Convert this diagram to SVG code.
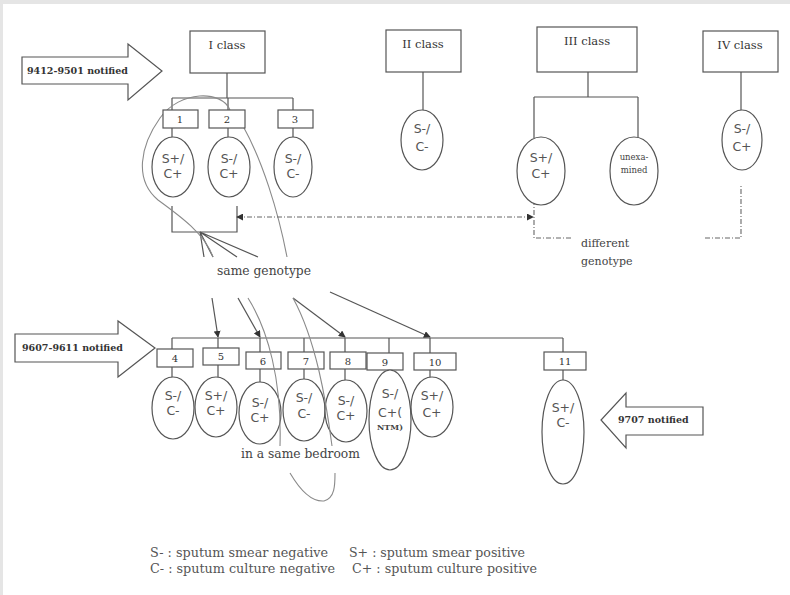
<svg xmlns="http://www.w3.org/2000/svg" width="790" height="595" viewBox="0 0 790 595">
<defs>
<style>
.ln{stroke:#555;stroke-width:1.2;fill:none}
.gc{stroke:#8a8a8a;stroke-width:1.1;fill:none}
.bx{stroke:#555;stroke-width:1.2;fill:#fff}
.el{stroke:#555;stroke-width:1.2;fill:#fff}
.dd{stroke:#666;stroke-width:1.1;fill:none;stroke-dasharray:5,2,1,2}
.cl{font-family:"DejaVu Serif",serif;font-size:11.5px;fill:#333;text-anchor:middle}
.nm{font-family:"DejaVu Serif",serif;font-size:10px;fill:#333;text-anchor:middle}
.dg{font-family:"DejaVu Serif",serif;font-size:11px;fill:#444}
.et{font-family:"DejaVu Sans",sans-serif;font-size:12.5px;fill:#555;text-anchor:middle}
.sm{font-family:"DejaVu Serif",serif;font-size:8px;fill:#444;text-anchor:middle;font-weight:bold}
.ux{font-family:"DejaVu Serif",serif;font-size:8.5px;fill:#444;text-anchor:middle}
.ar{font-family:"DejaVu Serif",serif;font-size:9.5px;fill:#333;font-weight:bold}
.lb{font-family:"DejaVu Serif",serif;font-size:12.3px;fill:#444}
.lg{font-family:"DejaVu Serif",serif;font-size:12px;fill:#555}
.bg{stroke:#555;stroke-width:1.2;fill:#fff}
</style>
<marker id="ah" viewBox="0 0 8 8" refX="7" refY="4" markerWidth="7" markerHeight="7" orient="auto" markerUnits="userSpaceOnUse">
<path d="M0,0 L8,4 L0,8 z" fill="#333"/>
</marker>
<marker id="ad" viewBox="0 0 8 8" refX="7" refY="4" markerWidth="7" markerHeight="7" orient="auto-start-reverse" markerUnits="userSpaceOnUse">
<path d="M0,0 L8,4 L0,8 z" fill="#333"/>
</marker>
</defs>
<rect x="0" y="0" width="790" height="595" fill="#e5e5e5"/>
<rect x="3" y="4" width="787" height="591" fill="#fff"/>

<g id="connectors">
<path class="ln" d="M227,73 V98 M172,98 H293 M172,98 V110 M228,98 V110 M293,98 V110 M172,128 V137 M228,128 V137 M293,128 V138"/>
<path class="ln" d="M423,72 V110"/>
<path class="ln" d="M588,72 V97 M534,97 H638 M534,97 V138 M638,97 V138"/>
<path class="ln" d="M741,72 V110"/>
<path class="ln" d="M172,206 V232 H237 V206"/>
<path class="ln" d="M200,232 L204,257 M200,232 L237,257 M200,232 L258,257 M200,232 L213,257"/>
<path class="gc" d="M230,110 C222,90 180,90 160,118 C140,146 134,180 158,200 C180,216 205,234 213,257"/>
<path class="gc" d="M243,126 C262,160 278,210 287,257"/>
<path class="dd" d="M237,217 H533" marker-start="url(#ad)" marker-end="url(#ad)"/>
<path class="dd" d="M534,200 V238 H573"/>
<path class="dd" d="M705,238 H741 V185"/>
<path class="ln" d="M172,338 H563 M172,338 V349 M218,338 V348 M260,338 V352 M304,338 V352 M345,338 V352 M389,338 V353 M430,338 V353 M563,338 V352"/>
<path class="ln" d="M172,367 V378 M218,365 V377 M260,369 V383 M304,369 V379 M345,369 V380 M430,370 V377 M563,370 V380"/>
<path class="ln" d="M212,298 L218,337" marker-end="url(#ah)"/>
<path class="ln" d="M238,298 L260,337" marker-end="url(#ah)"/>
<path class="ln" d="M293,298 L345,337" marker-end="url(#ah)"/>
<path class="ln" d="M330,292 L430,337" marker-end="url(#ah)"/>
</g>

<g id="arrow-9412">
<path class="bg" d="M22,57 H128 V44 L162,71 L128,100 V84 H22 Z"/>
<text class="ar" x="27" y="74">9412-9501 notified</text>
</g>
<g id="arrow-9607">
<path class="bg" d="M15,334 H118 V321 L155,348 L118,377 V362 H15 Z"/>
<text class="ar" x="22" y="351">9607-9611 notified</text>
</g>
<g id="arrow-9707">
<path class="bg" d="M703,407 H626 V393 L601,420 L626,448 V435 H703 Z"/>
<text class="ar" x="618" y="423">9707 notified</text>
</g>

<g id="class1"><rect class="bx" x="190" y="31" width="75" height="42"/><text class="cl" x="227" y="49">I class</text></g>
<g id="class2"><rect class="bx" x="386" y="30" width="75" height="42"/><text class="cl" x="423" y="48">II class</text></g>
<g id="class3"><rect class="bx" x="537" y="27" width="100" height="45"/><text class="cl" x="587" y="45">III class</text></g>
<g id="class4"><rect class="bx" x="703" y="31" width="75" height="41"/><text class="cl" x="740" y="49">IV class</text></g>

<g id="box1"><rect class="bx" x="163" y="110" width="35" height="18"/><text class="nm" x="180" y="123">1</text></g>
<g id="box2"><rect class="bx" x="209" y="110" width="36" height="18"/><text class="nm" x="227" y="123">2</text></g>
<g id="box3"><rect class="bx" x="278" y="110" width="35" height="18"/><text class="nm" x="295" y="123">3</text></g>

<g id="e1"><ellipse class="el" cx="173" cy="167" rx="21" ry="30"/><text class="et" x="173" y="163">S+/</text><text class="et" x="173" y="178">C+</text></g>
<g id="e2"><ellipse class="el" cx="229" cy="167" rx="21" ry="30"/><text class="et" x="229" y="163">S-/</text><text class="et" x="229" y="178">C+</text></g>
<g id="e3"><ellipse class="el" cx="293" cy="167" rx="19" ry="30"/><text class="et" x="293" y="163">S-/</text><text class="et" x="293" y="178">C-</text></g>
<g id="eII"><ellipse class="el" cx="422" cy="140" rx="21" ry="30"/><text class="et" x="422" y="133">S-/</text><text class="et" x="422" y="151">C-</text></g>
<g id="eIIIa"><ellipse class="el" cx="541" cy="171" rx="24" ry="34"/><text class="et" x="541" y="162">S+/</text><text class="et" x="541" y="178">C+</text></g>
<g id="eIIIb"><ellipse class="el" cx="634" cy="171" rx="24" ry="34"/><text class="ux" x="634" y="160">unexa-</text><text class="ux" x="634" y="173">mined</text></g>
<g id="eIV"><ellipse class="el" cx="742" cy="140" rx="20" ry="30"/><text class="et" x="742" y="133">S-/</text><text class="et" x="742" y="151">C+</text></g>

<g id="box4"><rect class="bx" x="157" y="349" width="36" height="18"/><text class="nm" x="175" y="362">4</text></g>
<g id="box5"><rect class="bx" x="203" y="348" width="36" height="17"/><text class="nm" x="221" y="360">5</text></g>
<g id="box6"><rect class="bx" x="246" y="352" width="35" height="17"/><text class="nm" x="263" y="365">6</text></g>
<g id="box7"><rect class="bx" x="288" y="352" width="36" height="17"/><text class="nm" x="306" y="365">7</text></g>
<g id="box8"><rect class="bx" x="330" y="352" width="36" height="17"/><text class="nm" x="348" y="365">8</text></g>
<g id="box9"><rect class="bx" x="367" y="353" width="36" height="17"/><text class="nm" x="385" y="366">9</text></g>
<g id="box10"><rect class="bx" x="414" y="353" width="42" height="17"/><text class="nm" x="435" y="366">10</text></g>
<g id="box11"><rect class="bx" x="544" y="352" width="42" height="18"/><text class="nm" x="565" y="365">11</text></g>

<g id="e4"><ellipse class="el" cx="173" cy="408" rx="21" ry="31"/><text class="et" x="173" y="400">S-/</text><text class="et" x="173" y="415">C-</text></g>
<g id="e5"><ellipse class="el" cx="216" cy="407" rx="21" ry="30"/><text class="et" x="216" y="400">S+/</text><text class="et" x="216" y="415">C+</text></g>
<g id="e6"><ellipse class="el" cx="260" cy="413" rx="21" ry="31"/><text class="et" x="260" y="407">S-/</text><text class="et" x="260" y="422">C+</text></g>
<g id="e7"><ellipse class="el" cx="304" cy="410" rx="21" ry="31"/><text class="et" x="304" y="402">S-/</text><text class="et" x="304" y="418">C-</text></g>
<g id="e8"><ellipse class="el" cx="346" cy="411" rx="21" ry="31"/><text class="et" x="346" y="405">S-/</text><text class="et" x="346" y="420">C+</text></g>
<g id="e9"><ellipse class="el" cx="390" cy="420" rx="21" ry="50"/><text class="et" x="390" y="398">S-/</text><text class="et" x="390" y="417">C+(</text><text class="sm" x="390" y="430">NTM)</text></g>
<g id="e10"><ellipse class="el" cx="432" cy="407" rx="21" ry="30"/><text class="et" x="432" y="400">S+/</text><text class="et" x="432" y="417">C+</text></g>
<g id="e11"><ellipse class="el" cx="563" cy="432" rx="21" ry="52"/><text class="et" x="563" y="412">S+/</text><text class="et" x="563" y="427">C-</text></g>

<g id="bedroom-curves">
<path class="gc" d="M248,298 C268,330 282,380 280,446"/>
<path class="gc" d="M290,473 C300,490 312,502 324,501 C335,498 335,485 335,473"/>
<path class="gc" d="M332,446 C326,400 316,340 293,298"/>
</g>

<g id="labels">
<text class="lb" x="217" y="275">same genotype</text>
<text class="dg" x="581" y="247">different</text>
<text class="dg" x="581" y="265">genotype</text>
<text class="lb" x="241" y="458">in a same bedroom</text>
</g>

<g id="legend">
<text class="lg" x="150" y="557" textLength="178" lengthAdjust="spacingAndGlyphs">S- : sputum smear negative</text>
<text class="lg" x="349" y="557" textLength="176" lengthAdjust="spacingAndGlyphs">S+ : sputum smear positive</text>
<text class="lg" x="150" y="573" textLength="185" lengthAdjust="spacingAndGlyphs">C- : sputum culture negative</text>
<text class="lg" x="352" y="573" textLength="185" lengthAdjust="spacingAndGlyphs">C+ : sputum culture positive</text>
</g>
</svg>
